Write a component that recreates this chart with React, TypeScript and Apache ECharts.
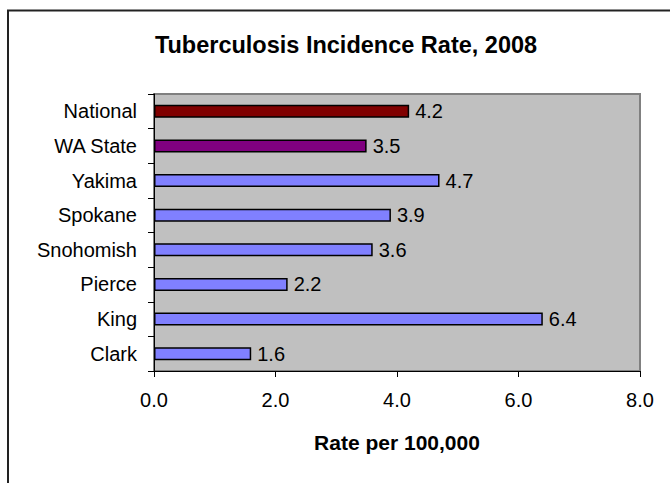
import React, { useEffect, useRef } from "react";
import * as echarts from "echarts";

const categories = ["Clark", "King", "Pierce", "Snohomish", "Spokane", "Yakima", "WA State", "National"];
const rates = [1.6, 6.4, 2.2, 3.6, 3.9, 4.7, 3.5, 4.2];
const xTicks = { min: 0, max: 8, interval: 2 };
const titleText = "Tuberculosis Incidence Rate, 2008";
const xAxisTitle = "Rate per 100,000";

const highlightColors: Record<string, string> = {
  National: "#800000",
  "WA State": "#800080",
};
const defaultColor = "#8080FF";
const FONT = 'Arial, "Liberation Sans", sans-serif';

export default function App() {
  const ref = useRef<HTMLDivElement>(null);
  useEffect(() => {
    if (!ref.current) return;
    const chart = echarts.init(ref.current, undefined, { renderer: "svg" });
    chart.setOption({
      animation: false,
      backgroundColor: "#ffffff",
      title: {
        text: titleText,
        left: 341,
        top: 28,
        textAlign: "center",
        textStyle: { fontFamily: FONT, fontSize: 23.5, fontWeight: "bold", color: "#000" },
      },
      graphic: [
        {
          type: "rect",
          shape: { x: 8, y: 10.5, width: 700, height: 500 },
          style: { fill: "none", stroke: "#222", lineWidth: 2 },
          silent: true,
        },
      ],
      grid: {
        left: 154,
        right: 30,
        top: 94,
        bottom: 112,
        show: true,
        backgroundColor: "#C0C0C0",
        borderColor: "#808080",
        borderWidth: 2,
      },
      xAxis: {
        type: "value",
        min: xTicks.min,
        max: xTicks.max,
        interval: xTicks.interval,
        name: xAxisTitle,
        nameLocation: "middle",
        nameGap: 61,
        nameTextStyle: { fontFamily: FONT, fontSize: 21, fontWeight: "bold", color: "#000" },
        axisLine: { show: true, lineStyle: { color: "#000", width: 1 } },
        axisTick: { show: true, length: 6, lineStyle: { color: "#000" } },
        axisLabel: {
          margin: 19,
          fontFamily: FONT,
          fontSize: 20,
          color: "#000",
          formatter: (v: number) => v.toFixed(1),
        },
        splitLine: { show: false },
      },
      yAxis: {
        type: "category",
        data: categories,
        axisLine: { show: true, lineStyle: { color: "#000", width: 1 } },
        axisTick: { show: true, length: 6, lineStyle: { color: "#000" } },
        axisLabel: { margin: 17, fontFamily: FONT, fontSize: 20, color: "#000" },
        splitLine: { show: false },
      },
      series: [
        {
          type: "bar",
          barWidth: 13,
          data: rates.map((v, i) => ({
            value: v,
            itemStyle: {
              color: highlightColors[categories[i]] || defaultColor,
              borderColor: "#000",
              borderWidth: 1.5,
            },
          })),
          label: {
            show: true,
            position: "right",
            distance: 6,
            fontFamily: FONT,
            fontSize: 20,
            color: "#000",
            formatter: (p: any) => Number(p.value).toFixed(1),
          },
        },
      ],
    });
    return () => chart.dispose();
  }, []);
  return (
    <div
      ref={ref}
      style={{ position: "fixed", left: 0, top: 0, width: 670, height: 483 }}
    />
  );
}
